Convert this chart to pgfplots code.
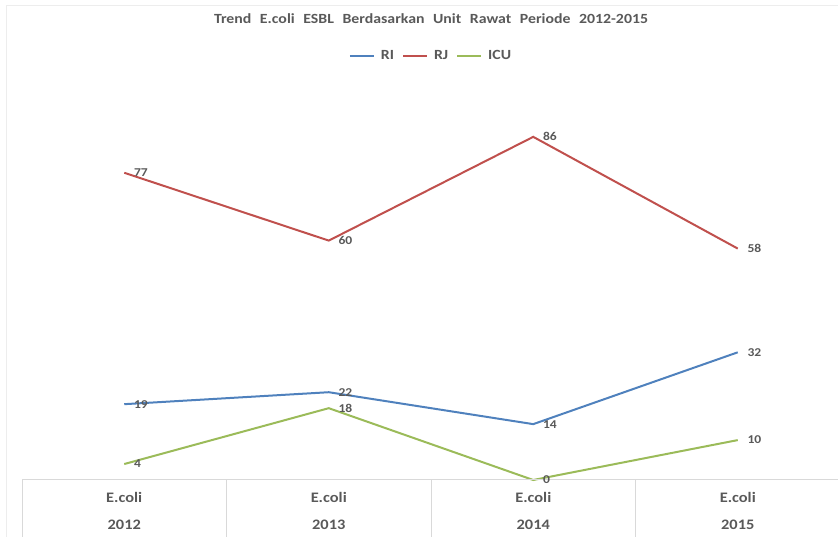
\documentclass[border=0pt]{standalone}
\usepackage{fontspec}
\setmainfont{Carlito}
\newfontfamily\cf{Carlito}[FakeStretch=1.13]
\newfontfamily\tf{Carlito}[FakeStretch=1.13, WordSpace=2.4]
\usepackage{pgfplots}
\pgfplotsset{compat=1.18}
\definecolor{ri}{HTML}{4F81BD}
\definecolor{rj}{HTML}{C0504D}
\definecolor{icu}{HTML}{9BBB59}
\definecolor{txt}{HTML}{595959}
\definecolor{grid}{HTML}{D9D9D9}

\begin{document}
\begin{tikzpicture}[x=1pt,y=1pt]
\useasboundingbox (0,0) rectangle (838,537);
% faint chart frame
\draw[black!7, line width=1pt] (6.5,0) -- (6.5,531) -- (840,531);
\begin{axis}[
  at={(22pt,57pt)}, anchor=south west,
  scale only axis,
  width=818pt, height=399pt,
  xmin=-0.5, xmax=3.5,
  ymin=0, ymax=100,
  axis line style={draw=none},
  axis x line*=bottom,
  ytick=\empty,
  xtick={0,1,2,3},
  major tick length=0pt,
  xticklabels={{E.coli\\[12pt]2012},{E.coli\\[12pt]2013},{E.coli\\[12pt]2014},{E.coli\\[12pt]2015}},
  xticklabel style={align=center, font=\cf\fontsize{14.5}{15}\selectfont\bfseries, text=txt, anchor=north, yshift=-9pt},
  clip=false,
  title={Trend E.coli ESBL Berdasarkan Unit Rawat Periode 2012-2015},
  title style={at={(0.5,1)}, anchor=center, yshift=56pt, font=\tf\fontsize{14}{16}\selectfont\bfseries, text=txt},
  legend style={at={(0.5,1)}, anchor=center, yshift=25pt, draw=none, legend columns=-1,
    font=\cf\fontsize{14}{15}\selectfont\bfseries, text=txt,
    /tikz/every odd column/.append style={column sep=4pt},
    /tikz/every even column/.append style={column sep=6pt}},
  legend image code/.code={\draw[#1, line width=2pt] (0pt,0pt) -- (24pt,0pt);},
  nodes near coords={\pgfmathprintnumber[assume math mode=true]{\pgfplotspointmeta}},
  every node near coord/.append style={anchor=west, xshift=5.5pt, font=\cf\fontsize{12}{13}\selectfont\bfseries, text=txt},
]
\addplot[ri, line width=2pt] coordinates {(0,19) (1,22) (2,14) (3,32)};
\addplot[rj, line width=2pt] coordinates {(0,77) (1,60) (2,86) (3,58)};
\addplot[icu, line width=2pt] coordinates {(0,4) (1,18) (2,0) (3,10)};
\legend{RI, RJ, ICU}
% category table below the plot
\draw[grid, line width=1pt] (axis cs:-0.5,0) -- (axis cs:3.5,0);
\draw[grid, line width=1pt] (axis cs:-0.5,0) -- ([yshift=-60pt]axis cs:-0.5,0);
\draw[grid, line width=1pt] (axis cs:0.5,0) -- ([yshift=-60pt]axis cs:0.5,0);
\draw[grid, line width=1pt] (axis cs:1.5,0) -- ([yshift=-60pt]axis cs:1.5,0);
\draw[grid, line width=1pt] (axis cs:2.5,0) -- ([yshift=-60pt]axis cs:2.5,0);
\draw[grid, line width=1pt] (axis cs:3.5,0) -- ([yshift=-60pt]axis cs:3.5,0);
\end{axis}
\end{tikzpicture}
\end{document}
